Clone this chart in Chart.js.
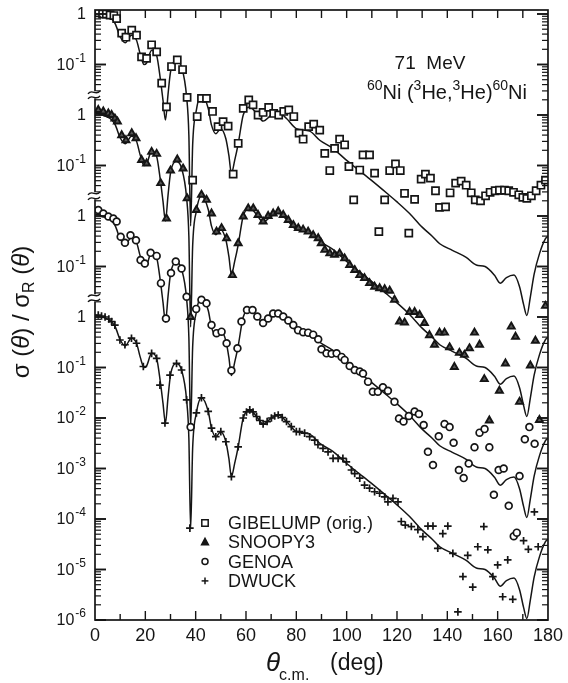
<!DOCTYPE html>
<html>
<head>
<meta charset="utf-8">
<title>60Ni(3He,3He) 71 MeV</title>
<script src="https://cdn.jsdelivr.net/npm/chart.js@4.4.1/dist/chart.umd.min.js"></script>
<style>
  html, body { margin: 0; padding: 0; background: #fff; }
  canvas { display: block; }
</style>
</head>
<body>
<canvas id="xs" width="568" height="683"></canvas>
<script>
// sigma/sigma_R, stored as log10 values; each panel is shifted by whole decades
const panelShift = [6, 4, 2, 0];           // GIBELUMP, SNOOPY3, GENOA, DWUCK
const legendNames = ['GIBELUMP (orig.)', 'SNOOPY3', 'GENOA', 'DWUCK'];

// solid curve (same in every panel)
const curveAngle = [0, 2, 4, 6, 8, 10, 12, 14.5, 16.5, 18, 19.5, 20.5, 22.5, 24.5, 26, 27, 28, 29, 30, 32.4, 34.4, 36.4, 37.3, 38, 38.8, 40.3, 42.3, 45, 46.3, 48, 50, 52, 53.2, 54.2, 55.5, 56.9, 58.9, 61.5, 64.2, 66.8, 70.1, 72.8, 76.1, 80, 85.3, 89.3, 94.5, 100, 105, 110, 116, 120, 125, 130, 134, 137, 142, 147.5, 151.5, 155, 158.7, 161, 163.5, 166.5, 168.7, 170.3, 171.6, 173, 174.5, 176.6, 179, 180];
const curveLog = [0.04, 0.02, -0.02, -0.07, -0.19, -0.45, -0.57, -0.42, -0.52, -0.8, -1.0, -0.97, -0.72, -0.82, -1.3, -1.7, -2.1, -1.6, -1.15, -0.92, -1.05, -1.64, -2.4, -4.2, -2.6, -1.9, -1.6, -1.87, -2.2, -2.37, -2.27, -2.47, -2.8, -3.16, -2.9, -2.57, -2.0, -1.84, -1.97, -2.12, -2.0, -1.94, -2.07, -2.27, -2.32, -2.5, -2.66, -2.9, -3.1, -3.3, -3.55, -3.72, -3.95, -4.22, -4.4, -4.55, -4.68, -4.82, -4.97, -5.0, -5.17, -5.33, -5.22, -5.17, -5.4, -5.75, -5.97, -5.6, -5.15, -4.75, -4.45, -4.4];

const gibAngle = [1.5, 3, 4.5, 6, 7.5, 8.6, 10.6, 12.3, 14.6, 16.5, 18.5, 20.5, 22.5, 24.5, 26.5, 28.4, 30.4, 32.7, 34.8, 36.6, 38.8, 40.6, 42.3, 44.3, 46.7, 48.9, 50.9, 52.9, 54.9, 56.9, 58.9, 61.1, 62.8, 64.8, 66.8, 69, 71, 73, 75, 77, 79, 81.1, 82.7, 84.9, 86.9, 89.3, 91.3, 93.3, 95.2, 97.2, 99.2, 100.9, 102.8, 105.2, 106.5, 109.1, 111.1, 112.8, 115.1, 117.1, 119.4, 121.3, 123, 124.7, 127, 129.6, 131.3, 133.3, 135.3, 136.9, 139.3, 141.1, 143.3, 145.5, 147.5, 149.5, 151.1, 153.2, 155.2, 157, 159, 160.7, 162.7, 164.4, 166.3, 168.4, 170, 171.6, 173.4, 175.3, 177.2, 179];
const gibLog = [0.02, 0.0, 0.0, -0.02, -0.03, -0.09, -0.38, -0.46, -0.32, -0.42, -0.85, -0.88, -0.61, -0.75, -1.37, -1.84, -1.04, -0.91, -1.1, -1.65, -3.29, -2.03, -1.67, -1.67, -1.93, -2.23, -2.13, -2.22, -3.17, -2.56, -1.87, -1.7, -1.8, -2.0, -1.95, -1.85, -1.97, -2.0, -1.93, -1.9, -2.03, -2.36, -2.48, -2.23, -2.18, -2.3, -2.76, -3.1, -2.66, -2.48, -2.59, -3.02, -3.68, -3.09, -2.79, -2.79, -3.15, -4.31, -3.68, -3.1, -2.97, -3.1, -3.55, -4.34, -3.67, -3.27, -3.17, -3.25, -3.5, -3.83, -3.82, -3.54, -3.35, -3.31, -3.39, -3.54, -3.68, -3.7, -3.6, -3.53, -3.5, -3.49, -3.49, -3.5, -3.53, -3.58, -3.63, -3.65, -3.6, -3.5, -3.39, -3.29];

const snoopyAngle = [1.3, 3.3, 5.3, 6.6, 7.9, 8.9, 10.6, 12.3, 14.6, 16.3, 18.5, 20.5, 22.5, 24.5, 26.1, 28.4, 30, 32.7, 35, 36.6, 38, 40.3, 42.3, 44.3, 46.3, 48.3, 50.3, 52.3, 54.6, 56.9, 58.9, 60.9, 62.9, 64.8, 66.8, 68.8, 70.8, 72.8, 74.8, 76.8, 78.8, 80.8, 82.7, 84.7, 86.7, 88.7, 89.9, 91.3, 93.3, 95.2, 97.2, 99.2, 101.2, 103.2, 105.2, 107.1, 109.1, 111.1, 113.1, 115.1, 117.1, 119, 121, 123, 125, 127, 129, 130.9, 132.9, 134.9, 136.9, 138.9, 140.9, 142.8, 144.8, 146.8, 148.8, 150.8, 152.8, 154.7, 156.7, 160.7, 163.1, 165.4, 167.1, 168.7, 173, 175, 176.6, 179];
const snoopyLog = [0.1, 0.07, 0.03, 0.0, -0.07, -0.13, -0.4, -0.5, -0.36, -0.46, -0.89, -0.96, -0.73, -0.77, -1.35, -2.05, -1.1, -0.88, -1.06, -1.65, -4.0, -1.88, -1.58, -1.68, -1.95, -2.31, -2.24, -2.44, -3.17, -2.54, -2.01, -1.85, -1.85, -1.98, -2.11, -2.0, -1.95, -1.91, -1.98, -2.08, -2.18, -2.24, -2.27, -2.31, -2.38, -2.44, -2.54, -2.67, -2.74, -2.77, -2.74, -2.84, -2.97, -3.07, -3.17, -3.23, -3.33, -3.4, -3.43, -3.45, -3.48, -3.66, -4.09, -4.11, -3.9, -3.9, -3.96, -4.12, -4.36, -4.55, -4.31, -4.31, -4.6, -4.99, -4.71, -4.75, -4.62, -4.31, -4.55, -5.23, -6.05, -5.46, -4.92, -4.19, -4.39, -5.68, -4.96, -4.47, -6.04, -3.78];

const genoaAngle = [1.3, 3.3, 5.3, 7.3, 8.6, 10.2, 11.9, 14.1, 16.3, 18.1, 19.8, 22.1, 24.5, 26.2, 28.2, 30.2, 32.1, 34.4, 36.4, 38, 40.2, 42.3, 44.3, 46.3, 48.3, 50.3, 52.3, 54.2, 56.6, 58.2, 60.4, 62.6, 64.5, 66.8, 68.8, 70.8, 72.8, 74.8, 76.8, 78.8, 80.7, 82.7, 84.7, 86.7, 88.7, 90, 92, 94, 96, 98, 99.2, 101.2, 103.2, 105.2, 106.5, 108.5, 110.4, 112.4, 114.4, 116.4, 119, 120.8, 122.6, 124.7, 127, 128.7, 130.6, 132.3, 134.3, 136.6, 138.9, 140.9, 142.5, 144.6, 146.5, 148.5, 150.8, 152.8, 154.8, 156.7, 158.5, 160.4, 162.4, 164.4, 166.4, 167.6, 168.7, 170.8, 172.6, 174.7];
const genoaLog = [0.12, 0.05, -0.01, -0.05, -0.11, -0.41, -0.53, -0.38, -0.48, -0.87, -0.94, -0.73, -0.79, -1.33, -2.03, -1.13, -0.9, -1.04, -1.6, -4.18, -1.84, -1.66, -1.73, -2.16, -2.32, -2.29, -2.52, -3.06, -2.62, -2.09, -1.86, -1.86, -1.99, -2.12, -2.03, -1.93, -1.93, -1.99, -2.07, -2.16, -2.26, -2.3, -2.31, -2.35, -2.44, -2.64, -2.72, -2.73, -2.72, -2.79, -2.85, -2.97, -3.05, -3.08, -3.12, -3.28, -3.48, -3.48, -3.39, -3.46, -3.68, -4.01, -4.07, -3.96, -3.87, -3.92, -4.14, -4.67, -4.93, -4.36, -4.12, -4.18, -4.49, -5.03, -5.19, -4.9, -4.58, -4.29, -4.22, -4.58, -5.52, -5.03, -5.0, -5.74, -6.34, -6.27, -5.15, -4.42, -4.18, -4.51];

const dwuckAngle = [1.3, 2.6, 4, 5.5, 6.6, 7.9, 9.9, 11.9, 14.5, 16.5, 19.2, 22.5, 24.5, 25.8, 27.8, 29.8, 32.4, 34.4, 36.4, 37.7, 40.3, 42.3, 45, 46.3, 48, 50, 52, 54.2, 56.9, 58.9, 60.2, 61.5, 62.8, 64.2, 65.5, 66.8, 68.4, 70.1, 71.4, 72.8, 74.4, 76.1, 78, 80, 81.3, 83.3, 85.3, 87.3, 88.6, 90.6, 92.6, 94.6, 96.6, 98.5, 99.9, 101.9, 103.2, 105.2, 107.1, 109.1, 111.1, 113.1, 115.1, 116.4, 118.4, 120.4, 121.7, 123.3, 125.7, 128.3, 130.3, 132.3, 134.3, 136.2, 138.2, 140.2, 142.2, 144.2, 146.2, 148.1, 150.1, 152.1, 154.5, 156.1, 158.1, 160, 162, 164, 166, 170.3, 172.2, 174.6, 176.1];
const dwuckLog = [0.04, 0.02, 0.0, -0.04, -0.09, -0.16, -0.455, -0.55, -0.42, -0.52, -0.98, -0.72, -0.82, -1.35, -2.1, -1.15, -0.92, -1.05, -1.64, -4.18, -1.9, -1.6, -1.87, -2.2, -2.37, -2.27, -2.47, -3.16, -2.57, -2.0, -1.88, -1.84, -1.88, -1.97, -2.05, -2.12, -2.07, -2.0, -1.96, -1.94, -1.99, -2.07, -2.17, -2.27, -2.27, -2.3, -2.37, -2.44, -2.53, -2.6, -2.67, -2.8, -2.8, -2.8, -2.87, -3.03, -3.1, -3.19, -3.33, -3.39, -3.46, -3.49, -3.56, -3.66, -3.59, -3.66, -4.05, -4.12, -4.15, -4.21, -4.35, -4.14, -4.14, -4.58, -4.29, -4.14, -4.68, -5.84, -5.14, -4.72, -5.35, -4.55, -4.15, -4.61, -5.14, -4.91, -5.54, -4.81, -5.59, -4.43, -4.6, -3.86, -4.55];

// tick labels on the left axis (each panel restarts at 1)
const yLabelValues = [1e6, 1e5, 1e4, 1e3, 1e2, 1e1, 1, 1e-1, 1e-2, 1e-3, 1e-4, 1e-5, 1e-6];
const yLabelTexts = ['1', '10^-1', '1', '10^-1', '1', '10^-1', '1', '10^-1', '10^-2', '10^-3', '10^-4', '10^-5', '10^-6'];
// axis breaks between panels, as log10 of the axis value
const breakLogs = [4.4, 2.4, 0.38];

const INK = '#151515';
const FONT = '"Liberation Sans", Arial, sans-serif';

function toPoints(angles, logs, shift) {
  return angles.map((a, i) => ({ x: a, y: Math.pow(10, logs[i] + shift) }));
}

const markers = [
  { pointStyle: 'rect', pointRadius: 5, backgroundColor: '#fff', borderWidth: 1.7 },
  { pointStyle: 'triangle', pointRadius: 4, backgroundColor: '#555', borderWidth: 1.9 },
  { pointStyle: 'circle', pointRadius: 3.4, backgroundColor: '#fff', borderWidth: 1.7 },
  { pointStyle: 'cross', pointRadius: 3.8, backgroundColor: INK, borderWidth: 1.7 }
];
const series = [[gibAngle, gibLog], [snoopyAngle, snoopyLog], [genoaAngle, genoaLog], [dwuckAngle, dwuckLog]];

const datasets = [];
panelShift.forEach((shift, i) => {
  datasets.push({
    label: legendNames[i] + ' curve',
    data: toPoints(curveAngle, curveLog, shift),
    showLine: true,
    borderColor: INK,
    borderWidth: 1.5,
    pointRadius: 0,
    cubicInterpolationMode: 'monotone',
    order: 2
  });
  datasets.push({
    label: legendNames[i],
    data: toPoints(series[i][0], series[i][1], shift),
    showLine: false,
    borderColor: INK,
    order: 1,
    ...markers[i]
  });
});

function line(ctx, x1, y1, x2, y2) {
  ctx.beginPath(); ctx.moveTo(x1, y1); ctx.lineTo(x2, y2); ctx.stroke();
}

function drawMarker(ctx, style, x, y, r) {
  ctx.beginPath();
  if (style === 'rect') {
    ctx.rect(x - r, y - r, 2 * r, 2 * r);
    ctx.fillStyle = '#fff'; ctx.fill(); ctx.stroke();
  } else if (style === 'triangle') {
    ctx.moveTo(x, y - r * 1.15); ctx.lineTo(x + r, y + r * 0.7); ctx.lineTo(x - r, y + r * 0.7); ctx.closePath();
    ctx.fillStyle = INK; ctx.fill(); ctx.stroke();
  } else if (style === 'circle') {
    ctx.arc(x, y, r, 0, Math.PI * 2);
    ctx.fillStyle = '#fff'; ctx.fill(); ctx.stroke();
  } else {
    line(ctx, x - r, y, x + r, y); line(ctx, x, y - r, x, y + r);
  }
}

// draws runs of text: [text, size, dy, italic]
function drawRuns(ctx, runs, x, y) {
  let cx = x;
  runs.forEach(([t, size, dy, it]) => {
    ctx.font = `${it ? 'italic ' : ''}${size}px ${FONT}`;
    ctx.fillText(t, cx, y + (dy || 0));
    cx += ctx.measureText(t).width;
  });
  return cx - x;
}
function runsWidth(ctx, runs) {
  let w = 0;
  runs.forEach(([t, size, dy, it]) => {
    ctx.font = `${it ? 'italic ' : ''}${size}px ${FONT}`;
    w += ctx.measureText(t).width;
  });
  return w;
}

const decor = {
  id: 'decor',
  afterDraw(chart) {
    const { ctx, chartArea: a, scales: { x, y } } = chart;
    ctx.save();
    ctx.strokeStyle = INK;
    ctx.fillStyle = INK;
    ctx.lineCap = 'butt';

    // frame
    ctx.lineWidth = 1.7;
    ctx.strokeRect(a.left, a.top, a.right - a.left, a.bottom - a.top);

    // x ticks (inward, top and bottom)
    ctx.lineWidth = 1.4;
    for (let d = 10; d < 180; d += 10) {
      const px = x.getPixelForValue(d);
      const len = d % 20 === 0 ? 9 : 6;
      line(ctx, px, a.bottom, px, a.bottom - len);
      line(ctx, px, a.top, px, a.top + 8);
    }

    // y ticks (inward, left and right)
    for (let e = -6; e <= 6; e++) {
      for (let m = 1; m <= 9; m++) {
        const v = m * Math.pow(10, e);
        if (v < y.min || v > y.max) continue;
        const py = y.getPixelForValue(v);
        const len = m === 1 ? 11 : 6;
        ctx.lineWidth = m === 1 ? 1.9 : 1.2;
        line(ctx, a.left, py, a.left + len, py);
        line(ctx, a.right, py, a.right - len, py);
      }
    }

    // axis breaks on the left side
    ctx.lineWidth = 1.4;
    breakLogs.forEach(lg => {
      const py = y.getPixelForValue(Math.pow(10, lg));
      ctx.fillStyle = '#fff';
      ctx.fillRect(a.left - 1.5, py - 3.5, 3, 7);
      [-2.5, 2.5].forEach(dy => {
        ctx.beginPath();
        ctx.moveTo(a.left - 7, py + dy + 1.5);
        ctx.bezierCurveTo(a.left - 3, py + dy - 4, a.left + 1, py + dy + 4, a.left + 5, py + dy - 1.5);
        ctx.stroke();
      });
    });
    ctx.fillStyle = INK;

    // y tick labels
    ctx.textBaseline = 'middle';
    ctx.textAlign = 'left';
    yLabelValues.forEach((v, i) => {
      const py = y.getPixelForValue(v);
      const [base, exp] = yLabelTexts[i].split('^');
      ctx.font = `16px ${FONT}`;
      const bw = ctx.measureText(base).width;
      let ew = 0;
      if (exp) { ctx.font = `12px ${FONT}`; ew = ctx.measureText(exp).width + 1; }
      const right = a.left - 9;
      ctx.font = `16px ${FONT}`;
      ctx.fillText(base, right - ew - bw, py + 1);
      if (exp) { ctx.font = `12px ${FONT}`; ctx.fillText(exp, right - ew + 1, py - 6); }
    });

    // energy and reaction
    ctx.textBaseline = 'alphabetic';
    ctx.textAlign = 'left';
    ctx.font = `19px ${FONT}`;
    const e1 = '71  MeV';
    ctx.fillText(e1, 430 - ctx.measureText(e1).width / 2, 69);
    const reaction = [['60', 14, -9], ['Ni (', 20], ['3', 14, -9], ['He,', 20], ['3', 14, -9], ['He)', 20], ['60', 14, -9], ['Ni', 20]];
    const rw = runsWidth(ctx, reaction);
    drawRuns(ctx, reaction, 527 - rw, 99);

    // axis titles
    drawRuns(ctx, [['θ', 26, 0, true]], 266, 671);
    ctx.font = `italic 26px ${FONT}`;
    const tw = ctx.measureText('θ').width;
    drawRuns(ctx, [['c.m.', 16, 0]], 266 + tw - 1, 680);
    drawRuns(ctx, [['(deg)', 23, 0]], 330, 670);

    ctx.save();
    ctx.translate(29, 312);
    ctx.rotate(-Math.PI / 2);
    const yTitle = [['σ', 24], [' (', 24], ['θ', 24, 0, true], [') / ', 24], ['σ', 24], ['R', 16, 5], [' (', 24], ['θ', 24, 0, true], [')', 24]];
    const yw = runsWidth(ctx, yTitle);
    drawRuns(ctx, yTitle, -yw / 2, 0);
    ctx.restore();

    // legend inside the plot
    const styles = ['rect', 'triangle', 'circle', 'cross'];
    const sizes = [3.2, 3.4, 3.0, 3.4];
    legendNames.forEach((name, i) => {
      const ly = 523 + i * 19.3;
      ctx.lineWidth = 1.5;
      ctx.strokeStyle = INK;
      drawMarker(ctx, styles[i], 205, ly, sizes[i]);
      ctx.fillStyle = INK;
      ctx.font = `18px ${FONT}`;
      ctx.textBaseline = 'middle';
      ctx.fillText(name, 228, ly + 1);
    });
    ctx.restore();
  }
};

new Chart(document.getElementById('xs'), {
  type: 'scatter',
  data: { datasets },
  options: {
    responsive: false,
    animation: false,
    devicePixelRatio: 1,
    layout: { padding: { top: 10, right: 19, left: 0, bottom: 0 } },
    plugins: { legend: { display: false }, tooltip: { enabled: false } },
    scales: {
      x: {
        type: 'linear', min: 0, max: 180,
        afterFit: s => { s.height = 63; },
        grid: { display: false, drawTicks: false },
        border: { display: false },
        ticks: {
          stepSize: 10, maxRotation: 0, autoSkip: false, padding: 5,
          color: INK, font: { family: FONT, size: 18 },
          callback: v => (v % 20 === 0 ? String(v) : '')
        }
      },
      y: {
        type: 'logarithmic', min: 1e-6, max: 1.2e6,
        afterFit: s => { s.width = 95; },
        grid: { display: false, drawTicks: false },
        border: { display: false },
        ticks: { display: false }
      }
    }
  },
  plugins: [decor]
});
</script>
</body>
</html>
